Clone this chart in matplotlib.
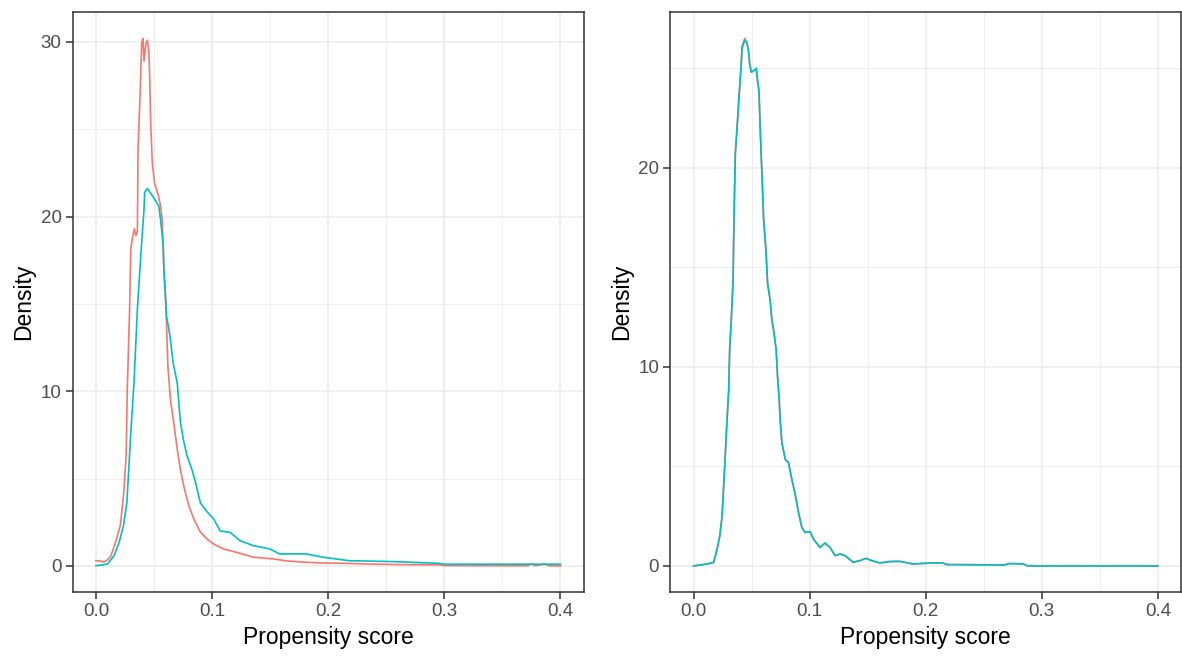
import matplotlib.pyplot as plt
from matplotlib.ticker import MultipleLocator

plt.rcParams['font.family'] = ['Liberation Sans', 'DejaVu Sans']

RED = '#F8766D'
CYAN = '#00BFC4'

# left panel: before matching
left_treated_x = [0.0, 0.004, 0.007, 0.010, 0.013, 0.017, 0.021, 0.024, 0.026, 0.027, 0.029, 0.030,
                  0.031, 0.033, 0.0345, 0.0357, 0.0363, 0.038, 0.0394, 0.0405, 0.0414, 0.043, 0.0443,
                  0.0455, 0.0463, 0.0471, 0.0485, 0.0505, 0.0534, 0.0557, 0.0571, 0.0585, 0.060, 0.062,
                  0.0642, 0.067, 0.070, 0.0728, 0.0762, 0.080, 0.0842, 0.090, 0.0957, 0.1013, 0.110,
                  0.121, 0.1356, 0.153, 0.165, 0.181, 0.195, 0.2156, 0.234, 0.26, 0.295, 0.30, 0.372,
                  0.375, 0.378, 0.387, 0.39, 0.40]
left_treated_y = [0.30, 0.28, 0.22, 0.35, 0.59, 1.37, 2.3, 4.2, 6.3, 10.1, 14.7, 18.1,
                  18.6, 19.3, 18.9, 19.2, 24.0, 26.9, 29.9, 30.2, 28.9, 29.9, 30.1,
                  29.5, 28.0, 25.5, 23.1, 21.9, 21.3, 20.6, 19.8, 17.0, 15.4, 11.4,
                  9.5, 8.2, 6.7, 5.5, 4.4, 3.45, 2.7, 1.93, 1.54, 1.26, 0.97,
                  0.78, 0.50, 0.40, 0.28, 0.21, 0.17, 0.15, 0.11, 0.08, 0.06, 0.02, 0.01,
                  0.12, 0.01, 0.10, 0.01, 0.0]

left_control_x = [0.0, 0.005, 0.010, 0.0157, 0.020, 0.0237, 0.0266, 0.0286, 0.030, 0.0328, 0.0357,
                  0.0385, 0.040, 0.0414, 0.042, 0.0443, 0.0465, 0.0485, 0.0514, 0.0542, 0.0557, 0.058,
                  0.0585, 0.0608, 0.0637, 0.0665, 0.070, 0.0728, 0.0757, 0.0785, 0.0828, 0.0857, 0.090,
                  0.0957, 0.1013, 0.107, 0.1156, 0.124, 0.1356, 0.150, 0.158, 0.181, 0.1956, 0.218,
                  0.256, 0.295, 0.30, 0.40]
left_control_y = [0.02, 0.05, 0.11, 0.6, 1.35, 2.3, 3.6, 5.9, 7.6, 10.5, 14.7,
                  17.6, 19.1, 20.4, 21.4, 21.6, 21.4, 21.2, 20.9, 20.6, 19.8, 18.3,
                  17.0, 14.3, 13.2, 11.6, 10.5, 8.2, 7.1, 6.3, 5.5, 4.8, 3.6,
                  3.1, 2.7, 2.0, 1.92, 1.45, 1.16, 0.97, 0.69, 0.69, 0.5, 0.3,
                  0.25, 0.15, 0.1, 0.1]

# right panel: after matching (both groups almost identical)
right_x = [0.0, 0.0118, 0.0174, 0.0203, 0.0226, 0.0246, 0.0266, 0.0283, 0.0303, 0.0312, 0.0324,
           0.0341, 0.0346, 0.035, 0.036, 0.0375, 0.039, 0.041, 0.0418, 0.0441, 0.046, 0.0475,
           0.0484, 0.0498, 0.0524, 0.054, 0.0552, 0.0564, 0.0575, 0.059, 0.0604, 0.0624, 0.0638,
           0.066, 0.0675, 0.069, 0.0712, 0.0724, 0.0738, 0.0747, 0.0761, 0.079, 0.0818, 0.0847,
           0.0876, 0.0904, 0.0933, 0.0961, 0.1004, 0.1033, 0.109, 0.1133, 0.1176, 0.1219, 0.1262,
           0.1305, 0.1376, 0.1433, 0.1485, 0.1534, 0.1605, 0.169, 0.1777, 0.189, 0.206, 0.2146,
           0.218, 0.268, 0.272, 0.284, 0.288, 0.40]
right_control_y = [0.0, 0.1, 0.18, 0.85, 1.5, 2.5, 4.7, 6.7, 8.85, 11.0, 12.2,
                   14.35, 16.5, 17.8, 20.7, 22.0, 23.4, 25.1, 26.0, 26.4, 26.3, 25.8,
                   25.2, 24.8, 24.9, 25.0, 24.35, 23.85, 21.85, 19.6, 17.4, 15.85, 14.2,
                   13.35, 12.35, 11.85, 10.85, 9.5, 8.35, 7.3, 6.2, 5.35, 5.2, 4.35,
                   3.6, 2.7, 1.93, 1.68, 1.72, 1.35, 0.93, 1.15, 0.93, 0.52, 0.6,
                   0.52, 0.18, 0.27, 0.38, 0.27, 0.15, 0.22, 0.23, 0.1, 0.15, 0.15,
                   0.07, 0.05, 0.12, 0.1, 0.0, 0.0]
right_treated_y = [0.0, 0.1, 0.18, 0.85, 1.5, 2.5, 4.7, 6.7, 8.85, 11.0, 12.2,
                   14.35, 16.5, 17.8, 20.7, 22.0, 23.4, 25.1, 26.1, 26.5, 26.3, 25.8,
                   25.2, 24.8, 24.9, 25.0, 24.35, 23.85, 21.85, 19.6, 17.4, 15.85, 14.2,
                   13.35, 12.35, 11.85, 10.85, 9.5, 8.35, 7.3, 6.2, 5.35, 5.2, 4.35,
                   3.6, 2.7, 1.93, 1.68, 1.72, 1.35, 0.93, 1.15, 0.93, 0.52, 0.6,
                   0.52, 0.18, 0.27, 0.38, 0.27, 0.15, 0.22, 0.23, 0.1, 0.15, 0.15,
                   0.07, 0.05, 0.12, 0.1, 0.0, 0.0]

x_ticks = [0.0, 0.1, 0.2, 0.3, 0.4]
x_tick_labels = ['0.0', '0.1', '0.2', '0.3', '0.4']


def style(ax, ymax):
    ax.set_xlim(-0.02, 0.42)
    ax.set_ylim(-0.05 * ymax, ymax * 1.05)
    ax.set_xticks(x_ticks)
    ax.set_xticklabels(x_tick_labels)
    ax.yaxis.set_major_locator(MultipleLocator(10))
    ax.xaxis.set_minor_locator(MultipleLocator(0.05))
    ax.yaxis.set_minor_locator(MultipleLocator(5))
    ax.grid(which='major', color='#EBEBEB', lw=1.1)
    ax.grid(which='minor', color='#EBEBEB', lw=0.6)
    ax.set_axisbelow(True)
    for s in ax.spines.values():
        s.set_color('#333333')
        s.set_linewidth(1.1)
    ax.tick_params(which='major', length=5, width=1.1, color='#333333',
                   labelsize=13.5, labelcolor='#4D4D4D', pad=3)
    ax.tick_params(which='minor', length=0)
    ax.set_xlabel('Propensity score', fontsize=16.5, labelpad=4)
    ax.set_ylabel('Density', fontsize=16.5, labelpad=4)


fig = plt.figure(figsize=(11.82, 6.61), dpi=100)
ax1 = fig.add_axes([0.0615, 0.1039, 0.4323, 0.8779])
ax2 = fig.add_axes([0.5671, 0.1039, 0.4321, 0.8779])

ax1.plot(left_treated_x, left_treated_y, color=RED, lw=1.2)
ax1.plot(left_control_x, left_control_y, color=CYAN, lw=1.2)
style(ax1, max(max(left_treated_y), max(left_control_y)))

ax2.plot(right_x, right_treated_y, color=RED, lw=1.2)
ax2.plot(right_x, right_control_y, color=CYAN, lw=1.2)
style(ax2, max(max(right_treated_y), max(right_control_y)))

fig.savefig('out.png', dpi=100)
